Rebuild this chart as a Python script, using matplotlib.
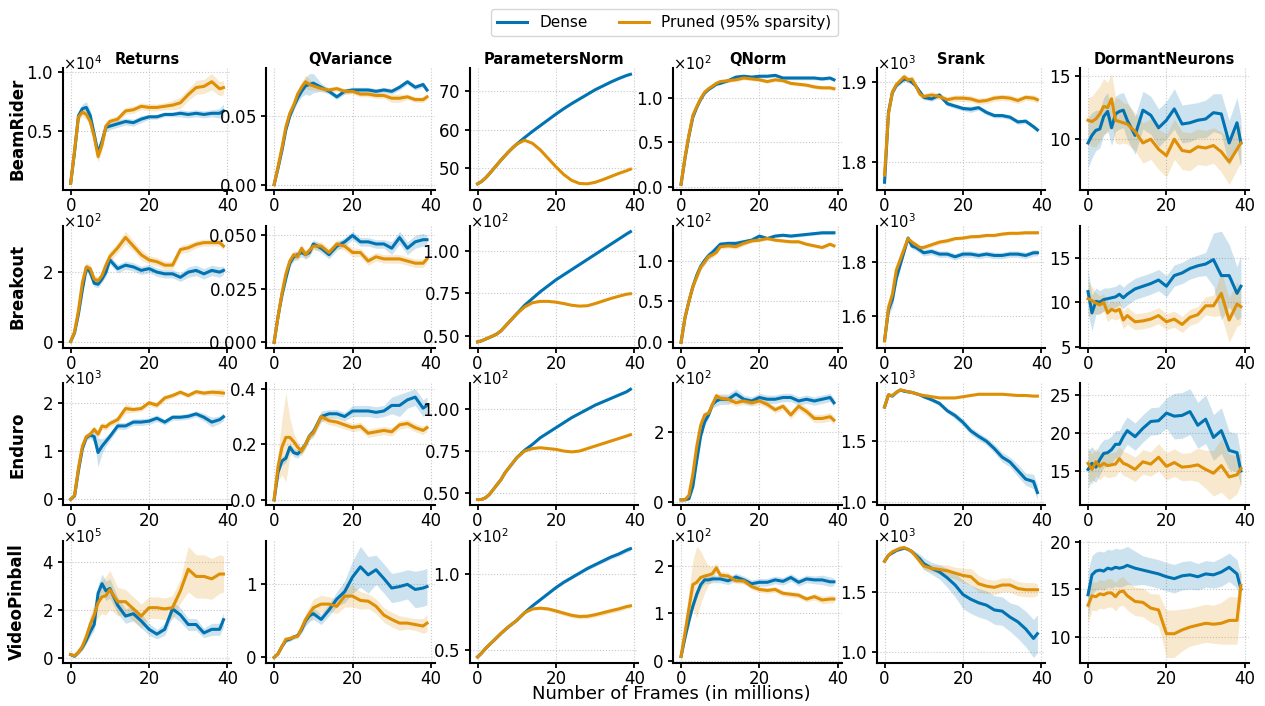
import numpy as np
import matplotlib
matplotlib.use("Agg")
import matplotlib.pyplot as plt
from matplotlib.ticker import ScalarFormatter

# -------------------------
# DATA (values in axis units, i.e. divided by 10**exponent of each panel)
# -------------------------
FRAMES = [0, 1, 2, 3, 4, 5, 6, 7, 8, 9, 10, 12, 14, 16, 18, 20, 22, 24, 26, 28, 30, 32, 34, 36, 38, 39]

GAMES = ["BeamRider", "Breakout", "Enduro", "VideoPinball"]
METRICS = ["Returns", "QVariance", "ParametersNorm", "QNorm", "Srank", "DormantNeurons"]
LABELS = ["Dense", "Pruned (95% sparsity)"]

EXPONENTS = [[4, 0, 0, 2, 3, 0],
             [2, 0, 2, 2, 3, 0],
             [3, 0, 2, 2, 3, 0],
             [5, 0, 2, 2, 3, 0]]

YTICKS = [[[0.5, 1.0], [0.0, 0.05], [50, 60, 70], [0.0, 0.5, 1.0], [1.8, 1.9], [10, 15]],
          [[0, 2], [0.0, 0.025, 0.05], [0.5, 0.75, 1.0], [0.0, 0.5, 1.0], [1.6, 1.8], [5, 10, 15]],
          [[0, 1, 2], [0.0, 0.2, 0.4], [0.5, 0.75, 1.0], [0, 2], [1.0, 1.5], [15, 20, 25]],
          [[0, 2, 4], [0, 1], [0.5, 1.0], [0, 1, 2], [1.0, 1.5], [10, 15, 20]]]

# --- BeamRider ---
BR_RET_D = [0.05, 0.32, 0.63, 0.69, 0.70, 0.63, 0.47, 0.31, 0.41, 0.53, 0.54, 0.56, 0.58, 0.57, 0.60, 0.62, 0.62, 0.64, 0.64, 0.65, 0.64, 0.65, 0.64, 0.65, 0.65, 0.67]
BR_RET_D_SD = [0.01, 0.02, 0.04, 0.04, 0.05, 0.05, 0.05, 0.05, 0.05, 0.04, 0.03, 0.03, 0.03, 0.03, 0.03, 0.02, 0.02, 0.02, 0.02, 0.03, 0.03, 0.03, 0.03, 0.03, 0.04, 0.06]
BR_RET_P = [0.05, 0.33, 0.62, 0.66, 0.64, 0.58, 0.45, 0.28, 0.38, 0.54, 0.58, 0.60, 0.67, 0.68, 0.71, 0.70, 0.70, 0.71, 0.72, 0.74, 0.81, 0.87, 0.88, 0.92, 0.86, 0.87]
BR_RET_P_SD = [0.01, 0.02, 0.03, 0.04, 0.04, 0.04, 0.05, 0.05, 0.05, 0.04, 0.03, 0.03, 0.03, 0.03, 0.03, 0.03, 0.03, 0.03, 0.04, 0.05, 0.05, 0.06, 0.06, 0.07, 0.06, 0.06]

BR_QV_D = [0.000, 0.012, 0.025, 0.040, 0.050, 0.057, 0.063, 0.068, 0.072, 0.073, 0.074, 0.071, 0.068, 0.064, 0.068, 0.069, 0.069, 0.069, 0.068, 0.069, 0.068, 0.071, 0.075, 0.071, 0.073, 0.069]
BR_QV_D_SD = [0.000, 0.001, 0.002, 0.002, 0.002, 0.003, 0.003, 0.004, 0.006, 0.008, 0.007, 0.003, 0.002, 0.002, 0.002, 0.002, 0.002, 0.002, 0.002, 0.002, 0.002, 0.002, 0.002, 0.002, 0.002, 0.002]
BR_QV_P = [0.000, 0.013, 0.027, 0.042, 0.052, 0.058, 0.066, 0.071, 0.075, 0.073, 0.072, 0.070, 0.069, 0.070, 0.068, 0.068, 0.066, 0.066, 0.065, 0.065, 0.063, 0.063, 0.064, 0.062, 0.062, 0.064]
BR_QV_P_SD = [0.000, 0.001, 0.002, 0.003, 0.003, 0.003, 0.003, 0.004, 0.005, 0.004, 0.003, 0.002, 0.002, 0.002, 0.002, 0.002, 0.002, 0.002, 0.002, 0.002, 0.003, 0.003, 0.002, 0.002, 0.002, 0.002]

BR_PN_D = [46.0, 46.6, 47.5, 48.6, 49.8, 51.0, 52.2, 53.3, 54.4, 55.4, 56.3, 58.0, 59.6, 61.1, 62.6, 64.1, 65.5, 66.8, 68.0, 69.2, 70.4, 71.4, 72.4, 73.3, 74.1, 74.4]
BR_PN_D_SD = [0.1, 0.1, 0.1, 0.1, 0.1, 0.1, 0.1, 0.1, 0.1, 0.1, 0.1, 0.1, 0.1, 0.2, 0.2, 0.2, 0.2, 0.2, 0.2, 0.2, 0.2, 0.2, 0.2, 0.2, 0.2, 0.2]
BR_PN_P = [46.0, 46.6, 47.5, 48.6, 49.8, 51.0, 52.2, 53.3, 54.4, 55.4, 56.3, 57.3, 56.5, 54.8, 52.6, 50.4, 48.4, 46.9, 46.1, 46.0, 46.4, 47.1, 47.9, 48.7, 49.4, 49.8]
BR_PN_P_SD = [0.1, 0.1, 0.1, 0.1, 0.1, 0.1, 0.1, 0.1, 0.1, 0.1, 0.1, 0.1, 0.1, 0.2, 0.2, 0.2, 0.2, 0.2, 0.2, 0.2, 0.2, 0.2, 0.2, 0.2, 0.2, 0.2]

BR_QN_D = [0.03, 0.32, 0.57, 0.78, 0.89, 0.98, 1.05, 1.09, 1.12, 1.15, 1.16, 1.19, 1.23, 1.24, 1.23, 1.24, 1.24, 1.25, 1.22, 1.22, 1.22, 1.22, 1.22, 1.21, 1.22, 1.20]
BR_QN_D_SD = [0.005, 0.01, 0.01, 0.01, 0.01, 0.01, 0.01, 0.01, 0.015, 0.015, 0.015, 0.02, 0.02, 0.02, 0.02, 0.02, 0.02, 0.02, 0.02, 0.02, 0.02, 0.02, 0.02, 0.02, 0.02, 0.02]
BR_QN_P = [0.03, 0.33, 0.58, 0.80, 0.90, 0.99, 1.06, 1.10, 1.13, 1.16, 1.18, 1.19, 1.20, 1.22, 1.21, 1.20, 1.18, 1.20, 1.19, 1.16, 1.15, 1.14, 1.12, 1.11, 1.11, 1.10]
BR_QN_P_SD = [0.005, 0.01, 0.01, 0.01, 0.01, 0.01, 0.01, 0.01, 0.015, 0.015, 0.015, 0.02, 0.02, 0.02, 0.02, 0.02, 0.02, 0.02, 0.02, 0.02, 0.02, 0.02, 0.02, 0.02, 0.02, 0.02]

BR_SR_D = [1.774, 1.862, 1.887, 1.896, 1.900, 1.904, 1.903, 1.900, 1.895, 1.888, 1.881, 1.879, 1.884, 1.873, 1.870, 1.867, 1.866, 1.868, 1.862, 1.858, 1.858, 1.856, 1.850, 1.851, 1.844, 1.840]
BR_SR_D_SD = [0.003, 0.003, 0.003, 0.003, 0.003, 0.003, 0.003, 0.003, 0.003, 0.003, 0.003, 0.003, 0.003, 0.003, 0.003, 0.003, 0.004, 0.003, 0.003, 0.003, 0.003, 0.003, 0.003, 0.003, 0.003, 0.003]
BR_SR_P = [1.783, 1.860, 1.888, 1.897, 1.902, 1.907, 1.903, 1.904, 1.895, 1.885, 1.882, 1.884, 1.882, 1.878, 1.880, 1.880, 1.879, 1.876, 1.877, 1.880, 1.881, 1.880, 1.877, 1.881, 1.880, 1.878]
BR_SR_P_SD = [0.003, 0.003, 0.003, 0.003, 0.003, 0.004, 0.004, 0.004, 0.004, 0.004, 0.004, 0.004, 0.004, 0.004, 0.004, 0.004, 0.004, 0.004, 0.004, 0.004, 0.004, 0.004, 0.004, 0.004, 0.004, 0.004]

BR_DN_D = [9.7, 10.3, 10.7, 10.8, 11.8, 12.2, 10.9, 12.0, 12.2, 12.3, 11.5, 10.3, 12.3, 11.9, 10.9, 11.5, 12.4, 11.2, 11.3, 11.5, 11.6, 12.1, 12.0, 9.7, 11.3, 9.7]
BR_DN_D_SD = [2.0, 1.8, 1.6, 1.5, 1.5, 1.5, 1.4, 1.4, 1.4, 1.4, 1.5, 1.5, 1.5, 1.5, 1.5, 1.5, 1.6, 1.5, 1.5, 1.4, 1.5, 1.5, 1.6, 1.8, 2.0, 2.0]
BR_DN_P = [11.5, 11.4, 11.6, 12.0, 12.6, 12.5, 13.2, 11.5, 11.4, 11.3, 11.2, 10.6, 9.7, 10.0, 9.2, 8.7, 10.0, 9.1, 9.0, 9.4, 9.3, 9.5, 9.0, 8.2, 9.2, 9.7]
BR_DN_P_SD = [1.8, 2.0, 2.2, 2.2, 2.2, 2.0, 2.0, 1.8, 1.8, 1.6, 1.6, 1.5, 1.6, 1.6, 1.6, 1.7, 1.6, 1.5, 1.5, 1.4, 1.4, 1.4, 1.6, 1.8, 1.6, 1.5]

# --- Breakout ---
BO_RET_D = [0.00, 0.25, 0.80, 1.50, 2.12, 2.00, 1.68, 1.65, 1.80, 2.00, 2.35, 2.10, 2.20, 2.15, 2.05, 2.10, 2.00, 1.95, 1.95, 1.85, 2.00, 2.05, 1.95, 2.05, 2.00, 2.05]
BO_RET_D_SD = [0.02, 0.05, 0.10, 0.12, 0.12, 0.12, 0.10, 0.10, 0.10, 0.12, 0.12, 0.12, 0.12, 0.12, 0.12, 0.12, 0.12, 0.12, 0.12, 0.12, 0.15, 0.15, 0.15, 0.15, 0.15, 0.12]
BO_RET_P = [0.00, 0.28, 0.90, 1.70, 2.15, 2.10, 1.80, 1.75, 1.90, 2.20, 2.45, 2.70, 3.00, 2.75, 2.50, 2.35, 2.30, 2.20, 2.20, 2.65, 2.70, 2.80, 2.85, 2.85, 2.85, 2.75]
BO_RET_P_SD = [0.02, 0.05, 0.10, 0.12, 0.12, 0.12, 0.10, 0.10, 0.10, 0.12, 0.15, 0.15, 0.18, 0.15, 0.15, 0.12, 0.12, 0.12, 0.12, 0.12, 0.12, 0.10, 0.10, 0.10, 0.10, 0.10]

BO_QV_D = [0.000, 0.012, 0.022, 0.030, 0.037, 0.040, 0.041, 0.042, 0.041, 0.042, 0.046, 0.044, 0.041, 0.045, 0.047, 0.050, 0.047, 0.047, 0.046, 0.046, 0.044, 0.049, 0.044, 0.047, 0.048, 0.048]
BO_QV_D_SD = [0.000, 0.001, 0.002, 0.002, 0.002, 0.002, 0.002, 0.002, 0.002, 0.002, 0.002, 0.002, 0.002, 0.002, 0.002, 0.002, 0.002, 0.002, 0.002, 0.002, 0.003, 0.003, 0.003, 0.003, 0.003, 0.002]
BO_QV_P = [0.000, 0.012, 0.023, 0.032, 0.038, 0.041, 0.040, 0.044, 0.041, 0.043, 0.045, 0.045, 0.042, 0.046, 0.045, 0.042, 0.042, 0.038, 0.040, 0.039, 0.039, 0.039, 0.038, 0.037, 0.037, 0.039]
BO_QV_P_SD = [0.000, 0.001, 0.002, 0.002, 0.002, 0.002, 0.002, 0.002, 0.002, 0.002, 0.002, 0.002, 0.002, 0.002, 0.002, 0.002, 0.002, 0.002, 0.002, 0.002, 0.002, 0.002, 0.002, 0.002, 0.002, 0.002]

BO_PN_D = [0.464, 0.470, 0.480, 0.490, 0.500, 0.512, 0.530, 0.555, 0.580, 0.605, 0.630, 0.680, 0.720, 0.760, 0.795, 0.830, 0.860, 0.890, 0.920, 0.950, 0.980, 1.010, 1.040, 1.070, 1.100, 1.114]
BO_PN_D_SD = [0.002, 0.002, 0.002, 0.002, 0.002, 0.002, 0.002, 0.002, 0.002, 0.002, 0.002, 0.002, 0.002, 0.002, 0.003, 0.003, 0.003, 0.003, 0.003, 0.003, 0.003, 0.003, 0.003, 0.003, 0.003, 0.003]
BO_PN_P = [0.464, 0.470, 0.480, 0.490, 0.500, 0.512, 0.530, 0.555, 0.580, 0.605, 0.630, 0.670, 0.695, 0.703, 0.703, 0.698, 0.690, 0.680, 0.675, 0.677, 0.690, 0.705, 0.720, 0.733, 0.745, 0.748]
BO_PN_P_SD = [0.002, 0.002, 0.002, 0.002, 0.002, 0.002, 0.002, 0.002, 0.002, 0.002, 0.002, 0.002, 0.002, 0.002, 0.003, 0.003, 0.003, 0.003, 0.003, 0.003, 0.003, 0.003, 0.003, 0.003, 0.003, 0.003]

BO_QN_D = [0.00, 0.30, 0.50, 0.68, 0.82, 0.93, 1.00, 1.06, 1.10, 1.15, 1.20, 1.21, 1.21, 1.23, 1.25, 1.30, 1.27, 1.30, 1.31, 1.30, 1.31, 1.32, 1.33, 1.34, 1.34, 1.34]
BO_QN_D_SD = [0.00, 0.02, 0.03, 0.04, 0.05, 0.05, 0.05, 0.05, 0.05, 0.04, 0.03, 0.03, 0.03, 0.03, 0.02, 0.02, 0.02, 0.02, 0.02, 0.02, 0.02, 0.02, 0.02, 0.02, 0.02, 0.02]
BO_QN_P = [0.00, 0.30, 0.50, 0.68, 0.80, 0.92, 0.98, 1.05, 1.07, 1.10, 1.17, 1.18, 1.17, 1.21, 1.24, 1.25, 1.27, 1.25, 1.24, 1.23, 1.23, 1.20, 1.18, 1.16, 1.20, 1.18]
BO_QN_P_SD = [0.00, 0.02, 0.02, 0.03, 0.03, 0.03, 0.03, 0.03, 0.03, 0.03, 0.03, 0.03, 0.03, 0.03, 0.02, 0.02, 0.02, 0.02, 0.02, 0.02, 0.02, 0.02, 0.02, 0.02, 0.02, 0.02]

BO_SR_D = [1.507, 1.620, 1.660, 1.740, 1.790, 1.840, 1.890, 1.860, 1.855, 1.845, 1.835, 1.840, 1.830, 1.830, 1.820, 1.830, 1.830, 1.825, 1.830, 1.825, 1.825, 1.830, 1.830, 1.825, 1.835, 1.835]
BO_SR_D_SD = [0.005, 0.020, 0.030, 0.020, 0.010, 0.010, 0.010, 0.010, 0.012, 0.012, 0.012, 0.012, 0.012, 0.012, 0.012, 0.012, 0.012, 0.012, 0.012, 0.012, 0.012, 0.012, 0.012, 0.012, 0.012, 0.012]
BO_SR_P = [1.505, 1.630, 1.680, 1.770, 1.810, 1.850, 1.888, 1.875, 1.865, 1.855, 1.855, 1.865, 1.875, 1.880, 1.888, 1.890, 1.895, 1.896, 1.900, 1.900, 1.905, 1.908, 1.908, 1.910, 1.910, 1.910]
BO_SR_P_SD = [0.005, 0.015, 0.020, 0.015, 0.008, 0.008, 0.008, 0.008, 0.008, 0.008, 0.008, 0.008, 0.008, 0.008, 0.006, 0.006, 0.006, 0.006, 0.006, 0.006, 0.006, 0.006, 0.006, 0.006, 0.006, 0.006]

BO_DN_D = [11.2, 8.8, 10.1, 10.0, 10.3, 10.4, 10.5, 10.6, 10.9, 10.5, 10.9, 11.5, 11.8, 12.1, 12.5, 11.8, 13.0, 13.3, 13.8, 14.1, 14.3, 14.8, 13.0, 13.0, 11.0, 11.8]
BO_DN_D_SD = [2.5, 2.0, 1.5, 1.3, 1.3, 1.2, 1.2, 1.2, 1.2, 1.2, 1.2, 1.2, 1.2, 1.2, 1.2, 1.2, 1.2, 1.2, 1.2, 1.2, 1.3, 3.0, 5.0, 3.5, 3.0, 3.5]
BO_DN_P = [10.4, 10.2, 9.9, 9.7, 10.0, 8.8, 9.2, 9.0, 9.2, 8.0, 8.5, 7.8, 7.9, 8.1, 8.5, 7.8, 8.1, 7.5, 8.3, 8.6, 9.6, 9.6, 11.0, 8.0, 9.8, 9.5]
BO_DN_P_SD = [2.0, 1.5, 1.2, 1.0, 1.0, 1.0, 1.0, 1.0, 1.0, 1.0, 1.0, 0.9, 0.9, 0.9, 0.9, 0.9, 0.9, 0.9, 0.9, 0.9, 1.0, 1.2, 2.5, 2.5, 2.5, 2.0]

# --- Enduro ---
EN_RET_D = [0.00, 0.07, 0.60, 1.05, 1.28, 1.33, 1.30, 0.97, 1.10, 1.20, 1.30, 1.52, 1.52, 1.60, 1.60, 1.62, 1.68, 1.60, 1.70, 1.70, 1.72, 1.77, 1.70, 1.60, 1.65, 1.71]
EN_RET_D_SD = [0.01, 0.02, 0.05, 0.05, 0.06, 0.07, 0.12, 0.30, 0.15, 0.10, 0.08, 0.07, 0.07, 0.07, 0.07, 0.07, 0.07, 0.06, 0.06, 0.06, 0.06, 0.06, 0.08, 0.10, 0.08, 0.08]
EN_RET_P = [0.00, 0.08, 0.65, 1.10, 1.30, 1.35, 1.45, 1.35, 1.52, 1.50, 1.57, 1.65, 1.88, 1.86, 1.88, 2.00, 1.95, 2.10, 2.15, 2.22, 2.15, 2.23, 2.20, 2.22, 2.21, 2.20]
EN_RET_P_SD = [0.01, 0.02, 0.05, 0.05, 0.06, 0.06, 0.07, 0.07, 0.07, 0.07, 0.07, 0.08, 0.10, 0.06, 0.06, 0.06, 0.06, 0.06, 0.05, 0.05, 0.05, 0.05, 0.05, 0.06, 0.08, 0.08]

EN_QV_D = [0.000, 0.100, 0.140, 0.150, 0.190, 0.170, 0.165, 0.180, 0.200, 0.230, 0.245, 0.300, 0.310, 0.310, 0.300, 0.320, 0.320, 0.320, 0.315, 0.320, 0.340, 0.340, 0.360, 0.370, 0.330, 0.340]
EN_QV_D_SD = [0.000, 0.010, 0.015, 0.015, 0.015, 0.015, 0.015, 0.015, 0.015, 0.015, 0.015, 0.020, 0.015, 0.015, 0.015, 0.020, 0.020, 0.020, 0.020, 0.020, 0.030, 0.040, 0.030, 0.030, 0.030, 0.030]
EN_QV_P = [0.000, 0.120, 0.190, 0.225, 0.225, 0.210, 0.190, 0.175, 0.200, 0.230, 0.240, 0.300, 0.285, 0.280, 0.270, 0.260, 0.265, 0.240, 0.245, 0.250, 0.245, 0.270, 0.275, 0.260, 0.250, 0.260]
EN_QV_P_SD = [0.000, 0.050, 0.100, 0.160, 0.070, 0.030, 0.020, 0.015, 0.015, 0.015, 0.015, 0.015, 0.015, 0.015, 0.015, 0.015, 0.015, 0.015, 0.015, 0.015, 0.015, 0.015, 0.015, 0.015, 0.015, 0.015]

EN_PN_D = [0.460, 0.460, 0.470, 0.490, 0.520, 0.550, 0.580, 0.620, 0.650, 0.680, 0.710, 0.755, 0.790, 0.830, 0.860, 0.890, 0.920, 0.950, 0.975, 1.000, 1.025, 1.045, 1.065, 1.085, 1.105, 1.120]
EN_PN_D_SD = [0.002, 0.002, 0.002, 0.002, 0.002, 0.002, 0.002, 0.002, 0.002, 0.002, 0.002, 0.002, 0.002, 0.003, 0.003, 0.003, 0.003, 0.003, 0.003, 0.003, 0.003, 0.003, 0.003, 0.003, 0.003, 0.003]
EN_PN_P = [0.460, 0.460, 0.470, 0.490, 0.520, 0.550, 0.580, 0.620, 0.650, 0.680, 0.710, 0.750, 0.765, 0.770, 0.765, 0.760, 0.750, 0.745, 0.750, 0.765, 0.780, 0.795, 0.810, 0.825, 0.840, 0.848]
EN_PN_P_SD = [0.002, 0.002, 0.002, 0.002, 0.002, 0.002, 0.002, 0.002, 0.002, 0.002, 0.002, 0.002, 0.002, 0.003, 0.003, 0.003, 0.003, 0.003, 0.003, 0.003, 0.003, 0.003, 0.003, 0.003, 0.003, 0.003]

EN_QN_D = [0.07, 0.07, 0.10, 0.45, 1.20, 1.90, 2.30, 2.50, 2.80, 2.90, 2.95, 2.95, 3.10, 2.95, 2.90, 3.00, 2.95, 2.95, 3.00, 3.00, 2.90, 2.95, 2.90, 2.95, 3.00, 2.85]
EN_QN_D_SD = [0.00, 0.00, 0.02, 0.05, 0.10, 0.10, 0.10, 0.10, 0.10, 0.15, 0.15, 0.15, 0.15, 0.12, 0.12, 0.12, 0.12, 0.12, 0.12, 0.12, 0.12, 0.12, 0.12, 0.12, 0.12, 0.12]
EN_QN_P = [0.07, 0.07, 0.20, 0.80, 1.60, 2.20, 2.50, 2.55, 2.80, 3.05, 2.98, 2.95, 2.85, 2.90, 2.85, 2.90, 2.80, 2.65, 2.75, 2.50, 2.75, 2.60, 2.40, 2.40, 2.45, 2.35]
EN_QN_P_SD = [0.00, 0.00, 0.05, 0.10, 0.10, 0.10, 0.10, 0.10, 0.10, 0.10, 0.10, 0.10, 0.10, 0.10, 0.10, 0.10, 0.10, 0.10, 0.10, 0.12, 0.12, 0.12, 0.12, 0.12, 0.12, 0.12]

EN_SR_D = [1.780, 1.880, 1.870, 1.900, 1.920, 1.910, 1.905, 1.900, 1.890, 1.880, 1.865, 1.840, 1.810, 1.750, 1.710, 1.655, 1.585, 1.540, 1.500, 1.440, 1.370, 1.330, 1.260, 1.190, 1.170, 1.080]
EN_SR_D_SD = [0.010, 0.010, 0.010, 0.010, 0.010, 0.010, 0.010, 0.010, 0.010, 0.010, 0.012, 0.015, 0.020, 0.020, 0.025, 0.030, 0.030, 0.030, 0.030, 0.035, 0.040, 0.040, 0.050, 0.050, 0.060, 0.060]
EN_SR_P = [1.780, 1.880, 1.875, 1.900, 1.920, 1.915, 1.905, 1.900, 1.890, 1.880, 1.875, 1.865, 1.855, 1.855, 1.855, 1.865, 1.875, 1.885, 1.885, 1.885, 1.885, 1.880, 1.875, 1.875, 1.870, 1.870]
EN_SR_P_SD = [0.008, 0.008, 0.008, 0.008, 0.008, 0.008, 0.008, 0.008, 0.008, 0.008, 0.008, 0.008, 0.008, 0.008, 0.008, 0.008, 0.008, 0.008, 0.008, 0.008, 0.008, 0.008, 0.008, 0.008, 0.008, 0.008]

EN_DN_D = [15.2, 16.0, 15.5, 16.5, 17.3, 17.4, 17.8, 18.5, 18.5, 19.5, 20.3, 19.5, 20.6, 21.5, 21.6, 22.6, 22.2, 22.3, 22.8, 21.0, 21.8, 19.4, 20.3, 17.7, 17.4, 15.0]
EN_DN_D_SD = [2.5, 2.2, 2.0, 2.0, 1.8, 1.8, 1.8, 1.8, 1.8, 1.8, 1.8, 1.8, 1.8, 1.8, 1.8, 2.0, 3.0, 3.0, 3.0, 3.0, 3.2, 3.0, 3.0, 2.5, 2.5, 2.0]
EN_DN_P = [16.0, 15.2, 16.2, 15.6, 16.0, 15.7, 15.8, 15.9, 16.6, 16.0, 15.8, 15.2, 16.2, 15.9, 16.8, 15.6, 16.1, 15.5, 15.6, 15.8, 15.2, 14.7, 15.7, 14.2, 14.5, 15.3]
EN_DN_P_SD = [2.0, 2.0, 1.8, 1.8, 1.6, 1.6, 1.6, 1.6, 1.6, 1.6, 1.6, 1.6, 1.6, 1.6, 1.8, 1.8, 1.8, 1.8, 1.8, 2.2, 2.5, 3.0, 3.5, 3.0, 2.5, 2.0]

# --- VideoPinball ---
VP_RET_D = [0.15, 0.08, 0.25, 0.45, 0.75, 1.10, 1.40, 2.70, 3.10, 2.80, 2.90, 2.20, 1.75, 1.85, 1.55, 1.20, 1.00, 1.20, 2.05, 1.80, 1.40, 1.40, 1.05, 1.20, 1.20, 1.60]
VP_RET_D_SD = [0.05, 0.05, 0.08, 0.10, 0.15, 0.20, 0.25, 0.35, 0.40, 0.40, 0.40, 0.35, 0.30, 0.30, 0.30, 0.25, 0.20, 0.25, 0.30, 0.30, 0.25, 0.25, 0.20, 0.25, 0.25, 0.30]
VP_RET_P = [0.15, 0.10, 0.25, 0.50, 0.90, 1.40, 1.80, 2.30, 2.55, 2.60, 2.85, 2.35, 2.35, 2.05, 1.75, 2.10, 2.10, 2.05, 2.10, 2.80, 3.70, 3.40, 3.40, 3.30, 3.50, 3.50]
VP_RET_P_SD = [0.05, 0.05, 0.10, 0.20, 0.30, 0.40, 0.50, 0.60, 0.70, 0.80, 0.80, 0.60, 0.50, 0.50, 0.50, 0.45, 0.45, 0.45, 0.50, 0.50, 0.95, 0.90, 0.90, 0.85, 0.80, 0.75]

VP_QV_D = [0.00, 0.05, 0.15, 0.23, 0.25, 0.28, 0.30, 0.38, 0.50, 0.57, 0.60, 0.52, 0.65, 0.80, 0.90, 1.10, 1.24, 1.13, 1.20, 1.08, 0.95, 0.97, 1.00, 0.93, 0.95, 0.97]
VP_QV_D_SD = [0.00, 0.01, 0.02, 0.02, 0.03, 0.03, 0.03, 0.05, 0.07, 0.08, 0.08, 0.07, 0.08, 0.10, 0.15, 0.22, 0.28, 0.25, 0.20, 0.20, 0.20, 0.20, 0.20, 0.25, 0.25, 0.25]
VP_QV_P = [0.00, 0.05, 0.15, 0.25, 0.26, 0.28, 0.29, 0.40, 0.52, 0.60, 0.68, 0.73, 0.73, 0.70, 0.84, 0.84, 0.78, 0.77, 0.70, 0.58, 0.52, 0.47, 0.47, 0.45, 0.43, 0.47]
VP_QV_P_SD = [0.00, 0.01, 0.02, 0.02, 0.03, 0.03, 0.03, 0.05, 0.08, 0.10, 0.12, 0.12, 0.10, 0.10, 0.15, 0.15, 0.12, 0.10, 0.10, 0.10, 0.10, 0.10, 0.08, 0.08, 0.10, 0.12]

VP_PN_D = [0.455, 0.480, 0.510, 0.535, 0.560, 0.585, 0.610, 0.633, 0.655, 0.675, 0.695, 0.745, 0.790, 0.830, 0.870, 0.910, 0.945, 0.975, 1.005, 1.035, 1.060, 1.085, 1.110, 1.130, 1.155, 1.165]
VP_PN_D_SD = [0.003, 0.003, 0.003, 0.003, 0.003, 0.003, 0.003, 0.003, 0.003, 0.003, 0.004, 0.005, 0.006, 0.007, 0.008, 0.009, 0.010, 0.010, 0.011, 0.012, 0.012, 0.013, 0.013, 0.014, 0.014, 0.015]
VP_PN_P = [0.455, 0.480, 0.510, 0.535, 0.560, 0.585, 0.610, 0.633, 0.655, 0.675, 0.695, 0.745, 0.770, 0.775, 0.770, 0.757, 0.742, 0.728, 0.720, 0.722, 0.732, 0.745, 0.758, 0.770, 0.785, 0.790]
VP_PN_P_SD = [0.003, 0.003, 0.003, 0.003, 0.003, 0.003, 0.003, 0.003, 0.003, 0.003, 0.004, 0.006, 0.008, 0.010, 0.012, 0.014, 0.015, 0.016, 0.016, 0.016, 0.016, 0.016, 0.016, 0.016, 0.016, 0.016]

VP_QN_D = [0.10, 0.50, 0.85, 1.15, 1.40, 1.60, 1.70, 1.70, 1.72, 1.72, 1.72, 1.68, 1.76, 1.70, 1.62, 1.65, 1.65, 1.70, 1.67, 1.75, 1.65, 1.72, 1.70, 1.70, 1.66, 1.66]
VP_QN_D_SD = [0.02, 0.05, 0.08, 0.08, 0.08, 0.08, 0.08, 0.08, 0.08, 0.08, 0.08, 0.08, 0.08, 0.08, 0.08, 0.08, 0.08, 0.08, 0.08, 0.08, 0.08, 0.08, 0.08, 0.10, 0.10, 0.08]
VP_QN_P = [0.10, 0.60, 1.10, 1.60, 1.65, 1.75, 1.78, 1.80, 1.83, 1.95, 1.80, 1.78, 1.68, 1.68, 1.56, 1.50, 1.48, 1.50, 1.42, 1.40, 1.38, 1.30, 1.35, 1.28, 1.30, 1.30]
VP_QN_P_SD = [0.00, 0.20, 0.40, 0.50, 0.75, 0.55, 0.35, 0.20, 0.15, 0.10, 0.08, 0.08, 0.06, 0.06, 0.06, 0.06, 0.06, 0.06, 0.06, 0.06, 0.06, 0.06, 0.07, 0.08, 0.08, 0.08]

VP_SR_D = [1.760, 1.810, 1.830, 1.850, 1.860, 1.870, 1.860, 1.840, 1.810, 1.780, 1.740, 1.700, 1.670, 1.620, 1.560, 1.480, 1.440, 1.410, 1.390, 1.350, 1.340, 1.290, 1.250, 1.190, 1.110, 1.150]
VP_SR_D_SD = [0.010, 0.010, 0.010, 0.010, 0.010, 0.010, 0.015, 0.020, 0.030, 0.040, 0.050, 0.050, 0.060, 0.080, 0.100, 0.120, 0.120, 0.120, 0.120, 0.120, 0.120, 0.120, 0.140, 0.150, 0.160, 0.160]
VP_SR_P = [1.760, 1.810, 1.840, 1.855, 1.870, 1.875, 1.860, 1.840, 1.800, 1.760, 1.720, 1.700, 1.690, 1.680, 1.660, 1.640, 1.630, 1.570, 1.550, 1.540, 1.560, 1.560, 1.530, 1.520, 1.520, 1.520]
VP_SR_P_SD = [0.010, 0.010, 0.010, 0.010, 0.010, 0.010, 0.010, 0.020, 0.020, 0.030, 0.030, 0.030, 0.040, 0.050, 0.050, 0.060, 0.070, 0.070, 0.060, 0.060, 0.060, 0.060, 0.060, 0.060, 0.060, 0.050]

VP_DN_D = [14.4, 16.5, 16.9, 17.0, 16.9, 17.2, 17.1, 17.3, 17.2, 17.3, 17.5, 17.2, 17.0, 16.8, 16.6, 16.3, 16.1, 16.4, 16.5, 16.3, 16.6, 16.5, 16.8, 17.3, 16.6, 15.0]
VP_DN_D_SD = [2.5, 2.0, 2.0, 2.0, 2.0, 2.0, 2.0, 2.0, 2.0, 2.0, 2.0, 1.8, 1.5, 1.5, 1.5, 1.5, 1.5, 1.5, 1.5, 1.4, 1.4, 1.4, 1.5, 1.5, 1.5, 1.5]
VP_DN_P = [13.3, 14.3, 14.2, 14.5, 14.4, 14.6, 14.6, 14.2, 14.7, 14.8, 14.3, 13.7, 13.6, 13.0, 12.8, 10.3, 10.3, 10.7, 11.0, 11.2, 11.4, 11.3, 11.4, 11.7, 11.7, 15.4]
VP_DN_P_SD = [2.0, 1.5, 1.5, 1.5, 1.5, 1.5, 1.5, 1.5, 1.5, 1.5, 1.5, 1.5, 1.5, 1.5, 1.7, 2.5, 2.5, 2.2, 2.0, 2.0, 2.0, 2.0, 2.2, 2.5, 2.5, 2.0]

SERIES = [
    [(BR_RET_D, BR_RET_D_SD, BR_RET_P, BR_RET_P_SD), (BR_QV_D, BR_QV_D_SD, BR_QV_P, BR_QV_P_SD),
     (BR_PN_D, BR_PN_D_SD, BR_PN_P, BR_PN_P_SD), (BR_QN_D, BR_QN_D_SD, BR_QN_P, BR_QN_P_SD),
     (BR_SR_D, BR_SR_D_SD, BR_SR_P, BR_SR_P_SD), (BR_DN_D, BR_DN_D_SD, BR_DN_P, BR_DN_P_SD)],
    [(BO_RET_D, BO_RET_D_SD, BO_RET_P, BO_RET_P_SD), (BO_QV_D, BO_QV_D_SD, BO_QV_P, BO_QV_P_SD),
     (BO_PN_D, BO_PN_D_SD, BO_PN_P, BO_PN_P_SD), (BO_QN_D, BO_QN_D_SD, BO_QN_P, BO_QN_P_SD),
     (BO_SR_D, BO_SR_D_SD, BO_SR_P, BO_SR_P_SD), (BO_DN_D, BO_DN_D_SD, BO_DN_P, BO_DN_P_SD)],
    [(EN_RET_D, EN_RET_D_SD, EN_RET_P, EN_RET_P_SD), (EN_QV_D, EN_QV_D_SD, EN_QV_P, EN_QV_P_SD),
     (EN_PN_D, EN_PN_D_SD, EN_PN_P, EN_PN_P_SD), (EN_QN_D, EN_QN_D_SD, EN_QN_P, EN_QN_P_SD),
     (EN_SR_D, EN_SR_D_SD, EN_SR_P, EN_SR_P_SD), (EN_DN_D, EN_DN_D_SD, EN_DN_P, EN_DN_P_SD)],
    [(VP_RET_D, VP_RET_D_SD, VP_RET_P, VP_RET_P_SD), (VP_QV_D, VP_QV_D_SD, VP_QV_P, VP_QV_P_SD),
     (VP_PN_D, VP_PN_D_SD, VP_PN_P, VP_PN_P_SD), (VP_QN_D, VP_QN_D_SD, VP_QN_P, VP_QN_P_SD),
     (VP_SR_D, VP_SR_D_SD, VP_SR_P, VP_SR_P_SD), (VP_DN_D, VP_DN_D_SD, VP_DN_P, VP_DN_P_SD)],
]

COLORS = ["#0173B2", "#DE8F05"]

# -------------------------
# FIGURE
# -------------------------
plt.rcParams["font.family"] = ["DejaVu Sans"]
plt.rcParams["font.size"] = 12

fig = plt.figure(figsize=(12.65, 7.06), dpi=100)
axes = fig.subplots(4, 6)
fig.subplots_adjust(left=0.0498, right=0.987, top=0.9037, bottom=0.0609,
                    wspace=0.21, hspace=0.29)

x = np.array(FRAMES)
handles = []
for r, game in enumerate(GAMES):
    for c, metric in enumerate(METRICS):
        ax = axes[r, c]
        scale = 10.0 ** EXPONENTS[r][c]
        dense, dense_sd, pruned, pruned_sd = SERIES[r][c]
        for mean, sd, color in ((dense, dense_sd, COLORS[0]), (pruned, pruned_sd, COLORS[1])):
            m = np.array(mean) * scale
            s = np.array(sd) * scale
            ax.fill_between(x, m - s, m + s, color=color, alpha=0.2, linewidth=0)
            line, = ax.plot(x, m, color=color, linewidth=2.2)
            if r == 0 and c == 0:
                handles.append(line)

        ax.set_xticks([0, 20, 40])
        ax.set_yticks(np.array(YTICKS[r][c]) * scale)
        fmt = ScalarFormatter(useMathText=True, useOffset=False)
        if EXPONENTS[r][c]:
            fmt.set_powerlimits((EXPONENTS[r][c], EXPONENTS[r][c]))
        ax.yaxis.set_major_formatter(fmt)
        ax.yaxis.get_offset_text().set_fontsize(10.5)
        ax.yaxis.OFFSETTEXTPAD = -1.5

        ax.grid(True, linestyle=":", color="#c8c8c8", linewidth=0.8)
        ax.set_axisbelow(True)
        for side in ("top", "right"):
            ax.spines[side].set_visible(False)
        for side in ("left", "bottom"):
            ax.spines[side].set_linewidth(1.5)
        ax.tick_params(labelsize=12, length=3.5, width=1.3)
        ax.tick_params(axis="x", pad=1.5)

        if r == 0:
            ax.set_title(metric, fontsize=10.5, fontweight="bold", pad=3)
        if c == 0:
            ax.set_ylabel(game, fontsize=12, fontweight="bold")
            ax.yaxis.set_label_coords(-0.22, 0.5)

fig.text(0.531, 0.004, "Number of Frames (in millions)", ha="center", va="bottom", fontsize=13)
fig.legend(handles, LABELS, loc="upper center", bbox_to_anchor=(0.525, 0.998),
           ncol=2, fontsize=11, frameon=True)

fig.savefig("out.png", dpi=100)
